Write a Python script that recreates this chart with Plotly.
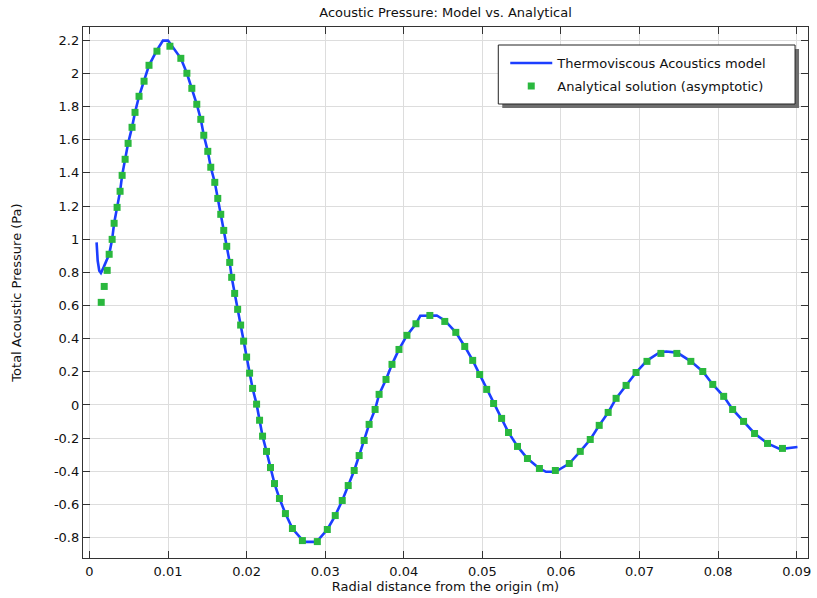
import plotly.graph_objects as go

# Analytical solution (asymptotic) markers
ana_x = [0.0015, 0.00188, 0.00226, 0.00251, 0.00289, 0.00314, 0.00352, 0.0039, 0.00416, 0.00454,
         0.00492, 0.00542, 0.0058, 0.00631, 0.00695, 0.00758, 0.00859, 0.01024, 0.01163, 0.0124,
         0.01303, 0.01366, 0.01417, 0.01455, 0.01506, 0.01544, 0.01595, 0.01633, 0.01671, 0.01709,
         0.01747, 0.01785, 0.0181, 0.01848, 0.01886,
         0.01924, 0.01962, 0.02, 0.02038, 0.02076, 0.02127, 0.02165, 0.02203, 0.02253, 0.02304,
         0.02355, 0.02418, 0.02494, 0.02583, 0.0271, 0.0290, 0.03027, 0.03128, 0.03217, 0.03293,
         0.03369, 0.03432, 0.03496, 0.03559, 0.03635, 0.03686, 0.03774, 0.0385, 0.03939, 0.0404, 0.04155,
         0.04332, 0.04522, 0.04662, 0.04776, 0.04877, 0.04966, 0.05055, 0.05143, 0.05245, 0.05333,
         0.05447, 0.05574, 0.05726, 0.05929, 0.06106, 0.06246, 0.06373,
         0.06487, 0.06601, 0.06702, 0.06829, 0.06956, 0.07095, 0.07272, 0.07475, 0.07653, 0.07805,
         0.07932, 0.08071, 0.08185, 0.08324, 0.08464, 0.08629, 0.08819]
ana_y = [0.619, 0.715, 0.812, 0.909, 0.999, 1.096, 1.192, 1.289, 1.385, 1.482,
         1.578, 1.675, 1.765, 1.862, 1.953, 2.049, 2.134, 2.164, 2.091, 2.001,
         1.910, 1.814, 1.723, 1.627, 1.530, 1.434, 1.343, 1.246, 1.150, 1.053,
         0.957, 0.860, 0.770, 0.673, 0.577,
         0.482, 0.385, 0.289, 0.192, 0.100, 0.005, -0.092, -0.188, -0.280, -0.377,
         -0.474, -0.564, -0.655, -0.745, -0.818, -0.824, -0.751, -0.667, -0.576, -0.486,
         -0.395, -0.305, -0.214, -0.117, -0.027, 0.064, 0.154, 0.245, 0.335, 0.420, 0.490,
         0.540, 0.504, 0.438, 0.353, 0.269, 0.184, 0.094, 0.009, -0.081, -0.166,
         -0.250, -0.323, -0.383, -0.395, -0.353, -0.280, -0.208,
         -0.123, -0.045, 0.040, 0.118, 0.196, 0.263, 0.311, 0.311, 0.263, 0.202,
         0.124, 0.052, -0.027, -0.099, -0.172, -0.232, -0.262]

# Thermoviscous Acoustics model curve
model_x = [0.00091, 0.00105, 0.00125, 0.00146, 0.0018, 0.0022,
           0.00251, 0.00289, 0.00314, 0.00352, 0.0039, 0.00416, 0.00454, 0.00492, 0.00542, 0.0058,
           0.00631, 0.00695, 0.00758, 0.00859, 0.00935, 0.0100,
           0.01163, 0.0124, 0.01303, 0.01366, 0.01417, 0.01455, 0.01506, 0.01544, 0.01595, 0.01633,
           0.01671, 0.01709, 0.01747, 0.01785, 0.0181, 0.01848, 0.01886,
           0.01924, 0.01962, 0.02, 0.02038, 0.02076, 0.02127, 0.02165, 0.02203, 0.02253, 0.02304,
           0.02355, 0.02418, 0.02494, 0.02583, 0.0273, 0.0289,
           0.03027, 0.03128, 0.03217, 0.03293, 0.03369, 0.03432, 0.03496, 0.03559, 0.03635, 0.03686,
           0.03774, 0.0385, 0.03939, 0.0404, 0.04155, 0.0421, 0.0442,
           0.04522, 0.04662, 0.04776, 0.04877, 0.04966, 0.05055, 0.05143, 0.05245, 0.05333, 0.05447,
           0.05574, 0.05726, 0.0581, 0.0593,
           0.06106, 0.06246, 0.06373, 0.06487, 0.06601, 0.06702, 0.06829, 0.06956, 0.07095, 0.0726,
           0.0734, 0.0748,
           0.07653, 0.07805, 0.07932, 0.08071, 0.08185, 0.08324, 0.08464, 0.08629, 0.0879, 0.0901]
model_y = [0.981, 0.87, 0.81, 0.796, 0.83, 0.87,
           0.909, 0.999, 1.096, 1.192, 1.289, 1.385, 1.482, 1.578, 1.675, 1.765,
           1.862, 1.953, 2.049, 2.14, 2.198, 2.198,
           2.091, 2.001, 1.910, 1.814, 1.723, 1.627, 1.530, 1.434, 1.343, 1.246,
           1.150, 1.053, 0.957, 0.860, 0.770, 0.673, 0.577,
           0.482, 0.385, 0.289, 0.192, 0.100, 0.005, -0.092, -0.188, -0.280, -0.377,
           -0.474, -0.564, -0.655, -0.745, -0.826, -0.826,
           -0.751, -0.667, -0.576, -0.486, -0.395, -0.305, -0.214, -0.117, -0.027, 0.064,
           0.154, 0.245, 0.335, 0.420, 0.490, 0.538, 0.540,
           0.510, 0.438, 0.353, 0.269, 0.184, 0.094, 0.009, -0.081, -0.166, -0.250,
           -0.323, -0.383, -0.403, -0.403,
           -0.353, -0.280, -0.208, -0.123, -0.045, 0.040, 0.118, 0.196, 0.268, 0.318,
           0.323, 0.316,
           0.263, 0.202, 0.124, 0.052, -0.027, -0.099, -0.172, -0.232, -0.266, -0.253]

x_tickvals = [0, 0.01, 0.02, 0.03, 0.04, 0.05, 0.06, 0.07, 0.08, 0.09]
x_ticktext = ["0", "0.01", "0.02", "0.03", "0.04", "0.05", "0.06", "0.07", "0.08", "0.09"]
y_tickvals = [2.2, 2.0, 1.8, 1.6, 1.4, 1.2, 1.0, 0.8, 0.6, 0.4, 0.2, 0.0,
              -0.2, -0.4, -0.6, -0.8]
y_ticktext = ["2.2", "2", "1.8", "1.6", "1.4", "1.2", "1", "0.8", "0.6", "0.4", "0.2", "0",
              "-0.2", "-0.4", "-0.6", "-0.8"]

FONT = "DejaVu Sans"
W, H = 817, 598
ML, MR, MT, MB = 83, 6, 27, 40
PW, PH = W - ML - MR, H - MT - MB


def px(x):
    return (x - ML) / PW


def py(y):
    return 1 - (y - MT) / PH


fig = go.Figure()
fig.add_trace(go.Scatter(
    x=model_x, y=model_y, mode="lines", name="Thermoviscous Acoustics model",
    line=dict(color="rgb(28,62,255)", width=2.6), legend="legend"))
fig.add_trace(go.Scatter(
    x=ana_x, y=ana_y, mode="markers", name="Analytical solution (asymptotic)",
    marker=dict(symbol="square", size=7, color="rgb(42,184,62)", line=dict(width=0)),
    legend="legend2"))

axis_common = dict(
    showline=True, linecolor="#333333", linewidth=1.3, mirror="ticks",
    ticks="inside", ticklen=7, tickwidth=1.2, tickcolor="#333333",
    showgrid=True, gridcolor="#dddddd", gridwidth=1, zeroline=False,
    tickfont=dict(family=FONT, size=13, color="#111111"),
)

# legend box (pixels)
BX1, BY1, BX2, BY2 = 500, 45, 798, 104
leg_common = dict(xanchor="left", yanchor="top", bgcolor="rgba(0,0,0,0)", borderwidth=0,
                  itemwidth=42, font=dict(family=FONT, size=13, color="#111111"))

fig.update_layout(
    width=W, height=H,
    margin=dict(l=ML, r=MR, t=MT, b=MB, pad=0),
    paper_bgcolor="white", plot_bgcolor="white",
    font=dict(family=FONT, size=13, color="#111111"),
    title=dict(text="Acoustic Pressure: Model vs. Analytical", x=0.5, xref="paper",
               y=1 - 12 / H, yref="container", yanchor="middle",
               font=dict(family=FONT, size=13, color="#111111")),
    xaxis=dict(range=[-0.00082, 0.09144], tickvals=x_tickvals, ticktext=x_ticktext,
               ticklabelstandoff=1,
               title=dict(text="Radial distance from the origin (m)", standoff=4,
                          font=dict(family=FONT, size=13)),
               **axis_common),
    yaxis=dict(range=[-0.923, 2.280], tickvals=y_tickvals, ticktext=y_ticktext,
               ticklabelstandoff=0,
               title=dict(text="Total Acoustic Pressure (Pa)", standoff=29,
                          font=dict(family=FONT, size=13)),
               **axis_common),
    legend=dict(x=px(507), y=py(48), **leg_common),
    legend2=dict(x=px(507), y=py(71), **leg_common),
    shapes=[
        dict(type="rect", xref="paper", yref="paper", layer="above",
             x0=px(BX1 + 4), x1=px(BX2 + 4), y0=py(BY2 + 4), y1=py(BY1 + 4),
             fillcolor="rgb(110,110,110)", line=dict(width=0)),
        dict(type="rect", xref="paper", yref="paper", layer="above",
             x0=px(BX1), x1=px(BX2), y0=py(BY2), y1=py(BY1),
             fillcolor="white", line=dict(color="#222222", width=1)),
    ],
    showlegend=True,
)

fig.write_html("out.html", config={"displayModeBar": False},
               post_script="document.body.style.margin='0';")
